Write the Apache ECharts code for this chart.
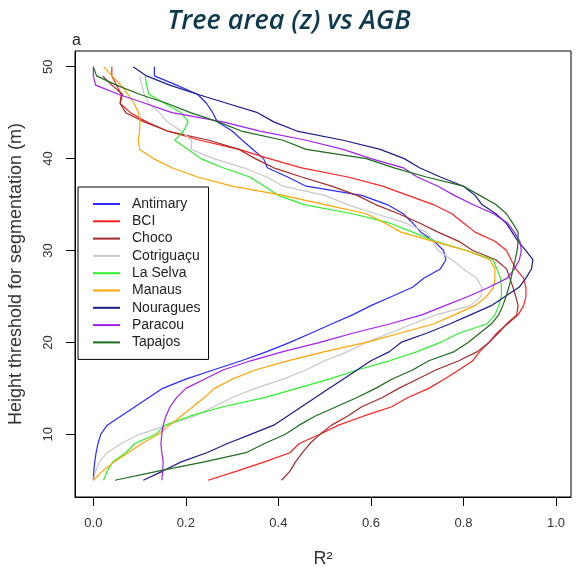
<!DOCTYPE html>
<html><head><meta charset="utf-8">
<script src="https://cdn.jsdelivr.net/npm/echarts@6/dist/echarts.min.js"></script>
<style>html,body{margin:0;padding:0;background:#fff}#c{width:578px;height:570px}</style>
</head><body><div id="c"></div>
<script>
// Height threshold (m)
const heights = [5,6,7,8,9,10,11,12,13,14,15,16,17,18,19,20,21,22,23,24,25,26,27,28,29,30,31,32,33,34,35,36,37,38,39,40,41,42,43,44,45,46,47,48,49,50];
const siteNames = ['Antimary','BCI','Choco','Cotriguaçu','La Selva','Manaus','Nouragues','Paracou','Tapajos'];
// R² per height for each site
const antimary = [0.0,0.001,0.003,0.006,0.01,0.016,0.03,0.06,0.09,0.12,0.15,0.20,0.259,0.32,0.375,0.425,0.47,0.515,0.56,0.60,0.645,0.69,0.715,0.75,0.762,0.757,0.737,0.708,0.69,0.67,0.635,0.58,0.46,0.42,0.376,0.368,0.345,0.322,0.30,0.268,0.258,0.245,0.225,0.18,0.132,0.132];
const bci = [0.248,0.31,0.37,0.425,0.445,0.49,0.53,0.585,0.645,0.68,0.725,0.758,0.79,0.82,0.835,0.855,0.872,0.895,0.918,0.93,0.935,0.935,0.93,0.913,0.903,0.893,0.868,0.825,0.80,0.775,0.735,0.68,0.625,0.55,0.45,0.38,0.315,0.23,0.16,0.115,0.08,0.058,0.06,0.05,0.04,0.04];
const choco = [0.407,0.425,0.437,0.452,0.468,0.49,0.515,0.55,0.58,0.625,0.66,0.70,0.74,0.79,0.83,0.855,0.875,0.893,0.915,0.918,0.913,0.907,0.90,0.893,0.87,0.82,0.79,0.745,0.705,0.66,0.61,0.57,0.515,0.45,0.39,0.35,0.315,0.25,0.16,0.11,0.07,0.058,0.063,0.04,0.02,null];
const cotriguacu = [0.0,0.005,0.013,0.03,0.06,0.10,0.16,0.22,0.26,0.30,0.35,0.41,0.46,0.50,0.55,0.59,0.64,0.69,0.74,0.815,0.838,0.84,0.828,0.80,0.775,0.745,0.734,0.72,0.675,0.61,0.55,0.50,0.41,0.375,0.325,0.26,0.212,0.212,0.19,0.16,0.143,0.12,0.11,0.105,0.10,null];
const laSelva = [0.022,0.03,0.042,0.07,0.09,0.135,0.155,0.21,0.28,0.37,0.44,0.51,0.57,0.64,0.70,0.75,0.79,0.85,0.868,0.876,0.882,0.882,0.88,0.872,0.864,0.806,0.74,0.69,0.64,0.56,0.455,0.40,0.37,0.338,0.28,0.232,0.205,0.176,0.195,0.205,0.19,0.155,0.12,0.115,0.112,null];
const manaus = [0.0,0.02,0.045,0.075,0.105,0.14,0.165,0.19,0.215,0.24,0.262,0.30,0.35,0.42,0.50,0.59,0.662,0.735,0.78,0.825,0.85,0.865,0.868,0.868,0.857,0.806,0.735,0.665,0.63,0.59,0.50,0.41,0.30,0.225,0.17,0.13,0.10,0.097,0.10,0.101,0.098,0.088,0.075,0.06,0.04,0.022];
const nouragues = [0.108,0.15,0.19,0.245,0.29,0.34,0.39,0.42,0.45,0.48,0.51,0.54,0.57,0.60,0.64,0.665,0.72,0.77,0.815,0.86,0.89,0.92,0.935,0.947,0.95,0.935,0.918,0.905,0.892,0.87,0.84,0.825,0.80,0.75,0.705,0.672,0.62,0.54,0.44,0.39,0.355,0.29,0.225,0.165,0.115,0.086];
const paracou = [0.148,0.15,0.151,0.148,0.146,0.148,0.151,0.157,0.166,0.18,0.20,0.24,0.28,0.34,0.41,0.49,0.56,0.64,0.71,0.76,0.81,0.855,0.895,0.91,0.921,0.925,0.922,0.91,0.895,0.865,0.82,0.78,0.745,0.70,0.67,0.60,0.54,0.46,0.36,0.28,0.17,0.113,0.054,0.005,0.0,0.0];
const tapajos = [0.047,0.14,0.24,0.33,0.37,0.415,0.445,0.48,0.525,0.57,0.61,0.645,0.69,0.725,0.78,0.81,0.835,0.86,0.876,0.885,0.892,0.898,0.903,0.907,0.912,0.916,0.918,0.918,0.906,0.893,0.87,0.835,0.80,0.72,0.65,0.59,0.46,0.41,0.32,0.27,0.21,0.16,0.10,0.05,0.007,0.0];
const xTicks = [0,0.2,0.4,0.6,0.8,1.0];
const yTicks = [10,20,30,40,50];

const seriesValues = [antimary,bci,choco,cotriguacu,laSelva,manaus,nouragues,paracou,tapajos];
const colors = ['#2b2bff','#ff2222','#a52a2a','#c8c8c8','#2ef02e','#ffa500','#1c1c8a','#a020f0','#1f6b1f'];

const series = siteNames.map((name, k) => ({
  name: name,
  type: 'line',
  showSymbol: false,
  symbol: 'none',
  animation: false,
  lineStyle: {width: 1.2, color: colors[k]},
  itemStyle: {color: colors[k]},
  data: heights.map((h, i) => [seriesValues[k][i], h]).filter(p => p[0] !== null)
}));

const chart = echarts.init(document.getElementById('c'));
chart.setOption({
  animation: false,
  backgroundColor: '#fff',
  textStyle: {fontFamily: 'Liberation Sans, Arial, sans-serif'},
  title: [
    {text: 'Tree area (z) vs AGB', left: 'center', top: 3,
     textStyle: {fontFamily: 'Open Sans', fontStyle: 'italic', fontWeight: 600, fontSize: 27, color: '#0f3a4e'}},
    {text: 'a', left: 67, top: 28,
     textStyle: {fontFamily: 'Liberation Sans', fontWeight: 'normal', fontSize: 16, color: '#222'}}
  ],
  grid: {left: 75, right: 7, top: 51, bottom: 73, show: true, borderColor: '#000', borderWidth: 1,
         outerBoundsMode: 'none', containLabel: false},
  legend: {
    orient: 'vertical', left: 78, top: 187,
    data: siteNames,
    icon: 'rect', itemWidth: 27, itemHeight: 2, itemGap: 1.3,
    padding: [9, 8, 9, 15],
    borderColor: '#000', borderWidth: 1, borderRadius: 0, backgroundColor: '#fff',
    textStyle: {fontSize: 14, lineHeight: 16, color: '#222', fontFamily: 'Liberation Sans', padding: [0,0,0,7]}
  },
  xAxis: {
    type: 'value', min: -0.0396, max: 1.0324,
    name: 'R²', nameLocation: 'middle', nameGap: 53,
    nameTextStyle: {fontSize: 18, color: '#333', fontFamily: 'Liberation Sans'},
    axisLine: {show: true, onZero: false, lineStyle: {color: '#000', width: 1}},
    axisTick: {show: true, customValues: xTicks, length: 9, lineStyle: {color: '#000'}},
    axisLabel: {customValues: xTicks, formatter: v => v.toFixed(1), margin: 20, fontSize: 13, color: '#333'},
    splitLine: {show: false}
  },
  yAxis: {
    type: 'value', min: 3.18, max: 51.71,
    name: 'Height threshold for segmentation (m)', nameLocation: 'middle', nameGap: 50, nameRotate: 90,
    nameTextStyle: {fontSize: 18, color: '#333', fontFamily: 'Liberation Sans'},
    axisLine: {show: true, onZero: false, lineStyle: {color: '#000', width: 1}},
    axisTick: {show: true, customValues: yTicks, length: 9, lineStyle: {color: '#000'}},
    axisLabel: {customValues: yTicks, rotate: 90, margin: 20, fontSize: 13, color: '#333'},
    splitLine: {show: false}
  },
  series: series
});
</script>
</body></html>
